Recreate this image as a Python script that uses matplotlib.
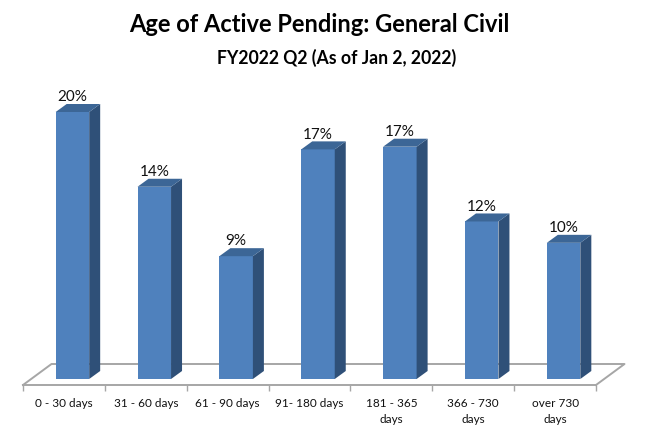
import matplotlib
matplotlib.use('Agg')
import matplotlib.pyplot as plt
from matplotlib.patches import Polygon

plt.rcParams['font.family'] = ['Lato', 'DejaVu Sans']

categories = ['0 - 30 days', '31 - 60 days', '61 - 90 days', '91- 180 days',
              '181 - 365\ndays', '366 - 730\ndays', 'over 730\ndays']
values = [20.0, 14.4, 9.2, 17.2, 17.4, 11.8, 10.2]

W, H = 654, 436
fig = plt.figure(figsize=(W / 100, H / 100), dpi=100)

# axes box runs along the front edge of the floor
left, right, bottom, top = 23, 596, 385, 80
ax = fig.add_axes([left / W, 1 - bottom / H, (right - left) / W, (bottom - top) / H])

px_x = (right - left) / len(categories)  # pixels per category
px_y = 13.35                             # pixels per percent
ax.set_xlim(0, len(categories))
ax.set_ylim(-6 / px_y, (379 - top) / px_y)

# fake 3d depth, same idea as the excel chart
dx = 11 / px_x
dy = 8 / px_y
bar_w = 33.5 / px_x
shift = 8.5 / px_x  # bars sit back from the tick centre

# floor
fx = 28.5 / px_x
fy = 21 / px_y
y0 = -6 / px_y
ax.plot([0, fx, 7 + fx, 7], [y0, y0 + fy, y0 + fy, y0], color='#a6a6a6', lw=1.4,
        clip_on=False, zorder=1)

for i, v in enumerate(values):
    xc = i + 0.5 + shift
    x0 = xc - bar_w / 2
    x1 = x0 + bar_w
    ax.bar(xc, v, width=bar_w, color='#4f81bd', edgecolor='none', zorder=3)
    ax.add_patch(Polygon([(x1, 0), (x1 + dx, dy), (x1 + dx, v + dy), (x1, v)],
                         closed=True, fc='#2f5078', ec='none', zorder=3))
    ax.add_patch(Polygon([(x0, v), (x0 + dx, v + dy), (x1 + dx, v + dy), (x1, v)],
                         closed=True, fc='#3c6696', ec='none', zorder=3))
    ax.text(xc, v + dy - 0.02, f'{v:.0f}%', ha='center', va='bottom',
            fontsize=11, color='#111111', zorder=4)

for s in ['top', 'left', 'right']:
    ax.spines[s].set_visible(False)
ax.spines['bottom'].set_color('#a6a6a6')
ax.spines['bottom'].set_linewidth(1.4)
ax.set_yticks([])
ax.set_xticks(range(len(categories) + 1))
ax.set_xticklabels([])
ax.set_xticks([i + 0.5 for i in range(len(categories))], categories, minor=True,
              fontsize=8.5, linespacing=1.55)
ax.tick_params(axis='x', which='major', length=4, width=1, color='#a6a6a6')
ax.tick_params(axis='x', which='minor', length=0, pad=9.5, labelcolor='#111111')
ax.patch.set_visible(False)

fig.text(319 / W, 1 - 24 / H, 'Age of Active Pending: General Civil', ha='center', va='center',
         fontsize=17, fontweight='bold', color='black')
fig.text(337 / W, 1 - 58 / H, 'FY2022 Q2 (As of Jan 2, 2022)', ha='center', va='center',
         fontsize=12.7, fontweight='bold', color='black')

fig.savefig('out.png', dpi=100)
